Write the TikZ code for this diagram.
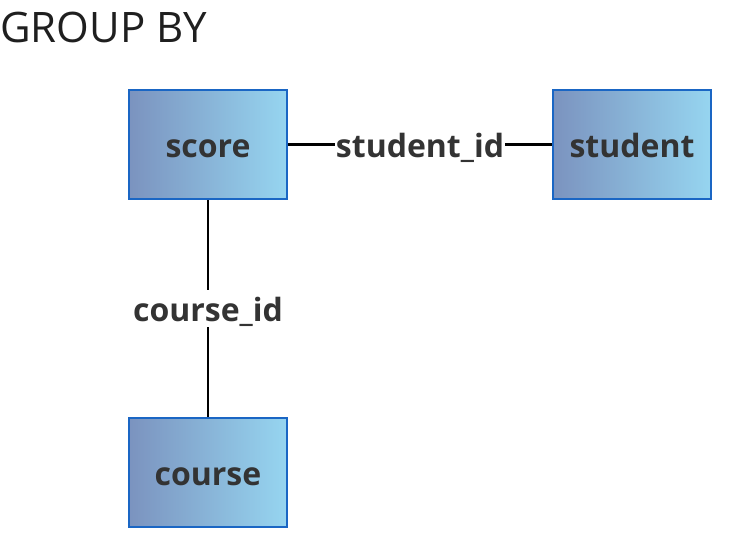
\documentclass[tikz,border=0pt]{standalone}
\usepackage{fontspec}
\setmainfont{Open Sans}
\usetikzlibrary{positioning}
\definecolor{boxline}{HTML}{1A66C4}
\definecolor{boxleft}{HTML}{7B93BF}
\definecolor{boxright}{HTML}{96D5F0}
\definecolor{textgray}{HTML}{333333}
\tikzset{
	table/.style={draw=boxline, line width=1.8pt, left color=boxleft, right color=boxright,
		minimum width=118.2pt, minimum height=81.5pt, inner sep=0pt,
		text height=23pt, text depth=4pt,
		font=\fontsize{24}{28}\selectfont\bfseries, text=textgray},
	key/.style={fill=white, inner sep=0.5pt, text height=23pt, text depth=4pt,
		font=\fontsize{24}{28}\selectfont\bfseries, text=textgray},
	link/.style={line width=1.6pt, color=black}
}

\begin{document}
\begin{tikzpicture}[x=0.75pt, y=-0.75pt]
		%%%%% START %%%%%
		\useasboundingbox (0, 0) rectangle (751, 540);
		
		\node[anchor=base west, inner sep=0pt, font=\fontsize{31.5}{36}\selectfont, text=black!88] (title) at (0, 42) {GROUP BY};
		
		\node[table] (score) at (208, 144.5) {score};
		\node[table] (student) at (632, 144.5) {student};
		\node[table] (course) at (208, 472.5) {course};
		
		\draw[link] (score) -- node[key] {student\_id} (student);
		\draw[link] (score) -- node[key] {course\_id} (course);
		
		%%%%% END %%%%%
	\end{tikzpicture}
\end{document}
